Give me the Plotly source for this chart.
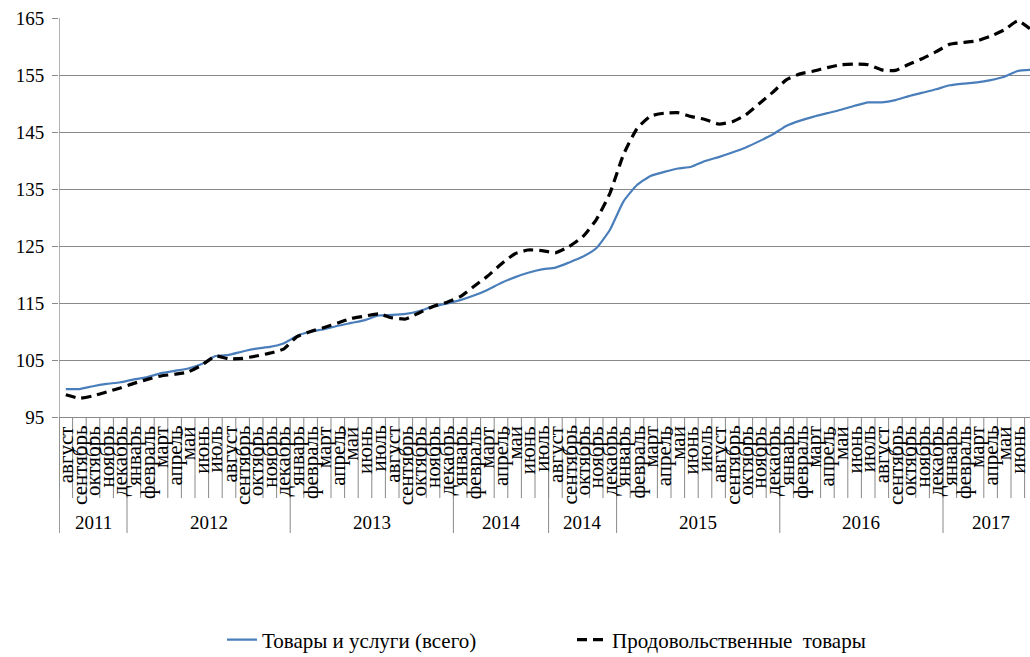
import plotly.graph_objects as go

# Monthly categories, grouped by year (Aug 2011 - Jul 2017)
month_names = ["январь", "февраль", "март", "апрель", "май", "июнь",
               "июль", "август", "сентябрь", "октябрь", "ноябрь", "декабрь"]
year_groups = [
    ("2011", 8, 12),
    ("2012", 1, 12),
    ("2013", 1, 12),
    ("2014", 1, 7),
    ("2014", 8, 12),
    ("2015", 1, 12),
    ("2016", 1, 12),
    ("2017", 1, 7),
]

# Index values
total_goods_services = [
    99.9, 99.9, 100.4, 100.8, 101.1,
    101.6, 102.0, 102.7, 103.1, 103.5, 104.3, 105.7, 105.9, 106.5, 107.0, 107.3, 107.9,
    109.2, 110.0, 110.4, 111.0, 111.5, 112.0, 112.8, 112.9, 113.1, 113.6, 114.4, 114.9,
    115.5, 116.3, 117.3, 118.5, 119.5, 120.3, 120.9,
    121.2, 122.1, 123.1, 124.6, 127.8,
    132.8, 135.7, 137.3, 138.0, 138.6, 138.9, 139.9, 140.6, 141.4, 142.3, 143.4, 144.6,
    146.1, 147.0, 147.7, 148.3, 148.9, 149.6, 150.2, 150.2, 150.6, 151.3, 151.9, 152.5,
    153.2, 153.5, 153.7, 154.1, 154.7, 155.7, 155.9,
]
food_goods = [
    98.9, 98.3, 98.7, 99.4, 100.1,
    100.9, 101.6, 102.2, 102.5, 102.9, 104.1, 105.7, 105.2, 105.3, 105.7, 106.2, 106.9,
    109.1, 110.0, 110.7, 111.5, 112.3, 112.7, 113.1, 112.4, 112.2, 113.3, 114.4, 115.1,
    116.1, 117.9, 119.7, 121.8, 123.6, 124.3, 124.2,
    123.8, 124.9, 126.6, 129.6, 134.2,
    141.0, 145.6, 147.8, 148.3, 148.4, 147.7, 147.2, 146.4, 146.8, 148.0, 150.0, 152.0,
    154.2, 155.2, 155.7, 156.3, 156.8, 156.9, 156.8, 155.9, 155.8, 156.9, 157.9, 159.1,
    160.4, 160.7, 161.0, 161.8, 162.9, 164.5, 162.9,
]

y_ticks = [95, 105, 115, 125, 135, 145, 155, 165]

# Build flat category list and group spans
month_labels = []
groups = []
for year, m0, m1 in year_groups:
    start = len(month_labels)
    month_labels.extend(month_names[m0 - 1:m1])
    groups.append((year, start, len(month_labels) - 1))
x_idx = list(range(len(month_labels)))

W, H = 1030, 657
L, T, B_PIX = 59, 18, 417           # plot area edges (px)
plot_h = B_PIX - T
cat_w = 13.6                          # px per category
x_end = -0.5 + (W - L) / cat_w

def py(pix):
    """Convert a pixel row below the plot to paper y."""
    return (B_PIX - pix) / plot_h

FONT = "Liberation Serif, Times New Roman, serif"
GRAY = "#898989"

fig = go.Figure()
fig.add_trace(go.Scatter(
    x=x_idx, y=total_goods_services, mode="lines",
    name="Товары и услуги (всего)",
    line=dict(color="#4a7ebb", width=2.2, shape="spline", smoothing=0.5),
))
fig.add_trace(go.Scatter(
    x=x_idx, y=food_goods, mode="lines",
    name="Продовольственные\u00a0 товары",
    line=dict(color="black", width=3.2, dash="10px,6px", shape="spline", smoothing=0.5),
))

shapes = []
annotations = []

# Month separators and labels
for i, lab in enumerate(month_labels):
    shapes.append(dict(type="line", xref="x", yref="paper",
                       x0=i - 0.5, x1=i - 0.5, y0=0, y1=py(498),
                       line=dict(color=GRAY, width=1)))
    annotations.append(dict(x=i, y=0, xref="x", yref="paper",
                            text=lab, showarrow=False, textangle=-90,
                            xanchor="center", yanchor="top", yshift=-7,
                            font=dict(family=FONT, size=21, color="black")))

# Year separators and labels (the last group is only partly visible)
for year, s, e in groups:
    shapes.append(dict(type="line", xref="x", yref="paper",
                       x0=s - 0.5, x1=s - 0.5, y0=0, y1=py(533),
                       line=dict(color=GRAY, width=1)))
    center = (s + e) / 2 if e + 0.5 <= x_end else s + 3
    annotations.append(dict(x=center, y=py(522),
                            xref="x", yref="paper", text=year, showarrow=False,
                            xanchor="center", yanchor="middle",
                            font=dict(family=FONT, size=19, color="black")))

# Left axis line extending down through the category area
shapes.append(dict(type="line", xref="x", yref="paper",
                   x0=-0.5, x1=-0.5, y0=py(533), y1=1,
                   line=dict(color=GRAY, width=1.3)))

fig.update_layout(
    width=W, height=H,
    margin=dict(l=L, r=0, t=T, b=H - B_PIX),
    paper_bgcolor="white", plot_bgcolor="white",
    font=dict(family=FONT, size=19, color="black"),
    xaxis=dict(range=[-0.5, x_end], showticklabels=False, showgrid=False,
               zeroline=False, showline=True, linecolor=GRAY, linewidth=1.3,
               ticks=""),
    yaxis=dict(range=[95, 165], tickvals=y_ticks, showgrid=True,
               gridcolor=GRAY, gridwidth=1.3, zeroline=False,
               ticks="outside", ticklen=6, tickcolor=GRAY, tickwidth=1.3,
               ticklabelstandoff=4,
               tickfont=dict(family=FONT, size=19, color="black")),
    showlegend=True,
    legend=dict(orientation="h", xref="container", yref="container",
                x=222 / W, xanchor="left", y=1 - 640 / H, yanchor="middle",
                font=dict(family=FONT, size=21, color="black"),
                traceorder="normal", entrywidth=305, entrywidthmode="pixels",
                itemwidth=30),
    shapes=shapes,
    annotations=annotations,
)

fig.write_html("out.html")
